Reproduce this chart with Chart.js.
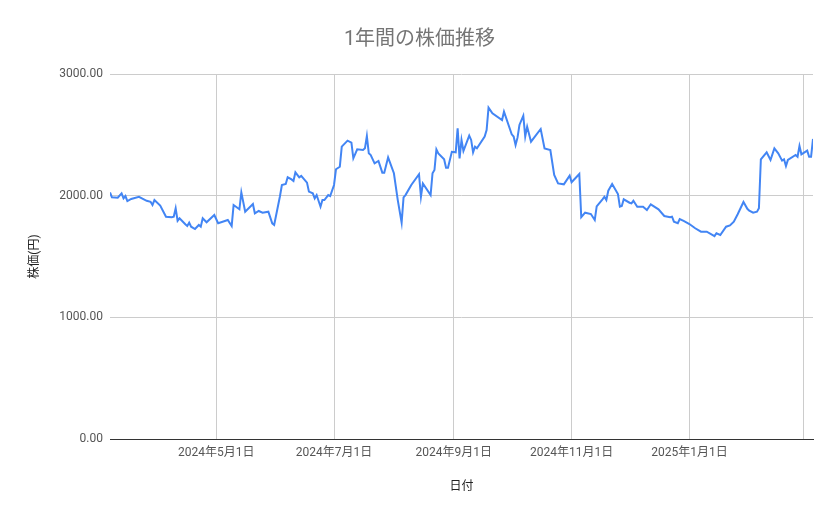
<!DOCTYPE html>
<html>
<head>
<meta charset="utf-8">
<script src="https://cdn.jsdelivr.net/npm/chart.js@4.4.1/dist/chart.umd.min.js"></script>
<style>
    html, body { margin: 0; padding: 0; background: #fff; }
    #wrap { width: 839px; height: 519px; }
</style>
</head>
<body>
<div id="wrap"><canvas id="priceChart"></canvas></div>
<script>
const dates = [
    '2024-03-07', '2024-03-08', '2024-03-11', '2024-03-13', '2024-03-14', '2024-03-15', '2024-03-16', '2024-03-18',
    '2024-03-22', '2024-03-26', '2024-03-28', '2024-03-29', '2024-03-30',
    '2024-04-02', '2024-04-05', '2024-04-08', '2024-04-09', '2024-04-10', '2024-04-11', '2024-04-12', '2024-04-15',
    '2024-04-16', '2024-04-17', '2024-04-18', '2024-04-20', '2024-04-22', '2024-04-23', '2024-04-24', '2024-04-26',
    '2024-04-30',
    '2024-05-02', '2024-05-07', '2024-05-09', '2024-05-10', '2024-05-13', '2024-05-14', '2024-05-16', '2024-05-20',
    '2024-05-21', '2024-05-23', '2024-05-25', '2024-05-28', '2024-05-30', '2024-05-31',
    '2024-06-03', '2024-06-04', '2024-06-06', '2024-06-07', '2024-06-09', '2024-06-10', '2024-06-11', '2024-06-13',
    '2024-06-14', '2024-06-17', '2024-06-18', '2024-06-20', '2024-06-21', '2024-06-22', '2024-06-24', '2024-06-25',
    '2024-06-26', '2024-06-28', '2024-06-29',
    '2024-07-01', '2024-07-02', '2024-07-04', '2024-07-05', '2024-07-08', '2024-07-10', '2024-07-11', '2024-07-13',
    '2024-07-16', '2024-07-17', '2024-07-18', '2024-07-19', '2024-07-20', '2024-07-22', '2024-07-24', '2024-07-26',
    '2024-07-27', '2024-07-29',
    '2024-08-01', '2024-08-03', '2024-08-05', '2024-08-06', '2024-08-07', '2024-08-10', '2024-08-14', '2024-08-15',
    '2024-08-16', '2024-08-20', '2024-08-21', '2024-08-22', '2024-08-23', '2024-08-24', '2024-08-27', '2024-08-28',
    '2024-08-29', '2024-08-31',
    '2024-09-02', '2024-09-03', '2024-09-04', '2024-09-05', '2024-09-06', '2024-09-09', '2024-09-10', '2024-09-11',
    '2024-09-12', '2024-09-13', '2024-09-17', '2024-09-18', '2024-09-19', '2024-09-21', '2024-09-26', '2024-09-27',
    '2024-10-01', '2024-10-02', '2024-10-03', '2024-10-04', '2024-10-05', '2024-10-07', '2024-10-08', '2024-10-09',
    '2024-10-11', '2024-10-16', '2024-10-18', '2024-10-21', '2024-10-23', '2024-10-25', '2024-10-28', '2024-10-31',
    '2024-11-01', '2024-11-05', '2024-11-06', '2024-11-08', '2024-11-11', '2024-11-13', '2024-11-14', '2024-11-17',
    '2024-11-18', '2024-11-19', '2024-11-20', '2024-11-22', '2024-11-25', '2024-11-26', '2024-11-27', '2024-11-28',
    '2024-12-01', '2024-12-02', '2024-12-03', '2024-12-05', '2024-12-08', '2024-12-10', '2024-12-12', '2024-12-16',
    '2024-12-19', '2024-12-22', '2024-12-23', '2024-12-24', '2024-12-26', '2024-12-27', '2024-12-29',
    '2025-01-01', '2025-01-04', '2025-01-07', '2025-01-10', '2025-01-14', '2025-01-15', '2025-01-17', '2025-01-20',
    '2025-01-22', '2025-01-24', '2025-01-26', '2025-01-29', '2025-01-31',
    '2025-02-01', '2025-02-03', '2025-02-05', '2025-02-06', '2025-02-07', '2025-02-10', '2025-02-12', '2025-02-14',
    '2025-02-16', '2025-02-18', '2025-02-19', '2025-02-20', '2025-02-21', '2025-02-25', '2025-02-26', '2025-02-27',
    '2025-02-28',
    '2025-03-03', '2025-03-04', '2025-03-05', '2025-03-06'
];

const prices = [
    2027, 1986, 1983, 2019, 1978, 1997, 1956, 1973,
    1991, 1958, 1950, 1923, 1964,
    1918, 1827, 1822, 1827, 1896, 1794, 1814, 1765,
    1751, 1778, 1745, 1726, 1759, 1745, 1814, 1781,
    1841,
    1773, 1800, 1751, 1923, 1888, 2027, 1868, 1931,
    1855, 1874, 1860, 1868, 1773, 1760,
    1995, 2088, 2096, 2151, 2134, 2121, 2192, 2151,
    2162, 2107, 2033, 2019, 1978, 2005, 1909, 1964,
    1964, 2005, 1997,
    2088, 2217, 2238, 2403, 2452, 2436, 2307, 2381,
    2375, 2389, 2490, 2348, 2334, 2266, 2285, 2189,
    2189, 2315,
    2184, 1964, 1778, 1986, 2005, 2088, 2176, 1991,
    2101, 2005, 2184, 2211, 2381, 2348, 2299, 2230,
    2230, 2360,
    2356, 2553, 2307, 2458, 2367, 2493, 2458, 2356,
    2403, 2389, 2486, 2540, 2723, 2677, 2622, 2690,
    2504, 2486, 2416, 2477, 2581, 2657, 2486, 2567,
    2444, 2548, 2389, 2375, 2170, 2101, 2093, 2165,
    2110, 2178, 1823, 1860, 1849, 1800, 1912, 1970,
    1991, 1964, 2041, 2096, 2014, 1909, 1915, 1970,
    1942, 1937, 1958, 1909, 1909, 1882, 1929, 1888,
    1833, 1822, 1827, 1786, 1773, 1808, 1792,
    1767, 1732, 1704, 1704, 1668, 1691, 1677, 1745,
    1755, 1786, 1847, 1948, 1892,
    1877, 1860, 1868, 1896, 2299, 2356, 2293, 2389,
    2348, 2288, 2299, 2244, 2293, 2334, 2320, 2408,
    2340,
    2370, 2320, 2320, 2466
];

// 目盛りを置く日付（最後の3月1日は線だけでラベルなし）
const tickDates = ['2024-05-01', '2024-07-01', '2024-09-01', '2024-11-01', '2025-01-01', '2025-03-01'];
const unlabeledTicks = ['2025-03-01'];
const yTicks = [0, 1000, 2000, 3000];

const FONT = 'Roboto, "Noto Sans CJK JP", sans-serif';

function toDay(s) {
    return Date.UTC(+s.slice(0, 4), +s.slice(5, 7) - 1, +s.slice(8, 10)) / 86400000;
}

function dayLabel(day) {
    const d = new Date(day * 86400000);
    return d.getUTCFullYear() + '年' + (d.getUTCMonth() + 1) + '月' + d.getUTCDate() + '日';
}

const points = dates.map((d, i) => ({ x: toDay(d), y: prices[i] }));
const hidden = unlabeledTicks.map(toDay);

const ctx = document.getElementById('priceChart').getContext('2d');

new Chart(ctx, {
    type: 'line',
    data: {
        datasets: [{
            label: '株価',
            data: points,
            borderColor: '#4285f4',
            borderWidth: 2,
            pointRadius: 0,
            tension: 0,
            fill: false,
        }]
    },
    options: {
        responsive: true,
        maintainAspectRatio: false,
        animation: false,
        layout: {
            padding: { left: 26, right: 26, top: 0, bottom: 0 }
        },
        scales: {
            x: {
                type: 'linear',
                bounds: 'data',
                min: toDay(dates[0]),
                max: toDay(dates[dates.length - 1]),
                afterBuildTicks: scale => {
                    scale.ticks = tickDates.map(d => ({ value: toDay(d) }));
                },
                afterFit: scale => {
                    scale.height = 80;
                },
                ticks: {
                    autoSkip: false,
                    maxRotation: 0,
                    padding: 7,
                    color: '#555',
                    font: { family: FONT, size: 12 },
                    callback: value => hidden.includes(value) ? '' : dayLabel(value)
                },
                grid: {
                    color: '#cccccc',
                    drawTicks: false
                },
                border: {
                    display: true,
                    color: '#333333',
                    width: 1
                },
                title: {
                    display: true,
                    text: '日付',
                    color: '#222',
                    font: { family: FONT, size: 12 },
                    padding: { top: 0, bottom: 25 }
                }
            },
            y: {
                min: 0,
                max: 3000,
                afterBuildTicks: scale => {
                    scale.ticks = yTicks.map(v => ({ value: v }));
                },
                afterFit: scale => {
                    scale.width = 84;
                },
                ticks: {
                    padding: 7,
                    color: '#555',
                    font: { family: FONT, size: 12 },
                    callback: value => value.toFixed(2)
                },
                grid: {
                    color: c => (c.tick && c.tick.value === 0) ? '#333333' : '#cccccc',
                    drawTicks: false
                },
                border: {
                    display: false
                },
                title: {
                    display: true,
                    text: '株価(円)',
                    color: '#222',
                    font: { family: FONT, size: 12 },
                    padding: { top: 2, bottom: 0 }
                }
            }
        },
        plugins: {
            legend: {
                display: false
            },
            tooltip: {
                enabled: false
            },
            title: {
                display: true,
                text: '1年間の株価推移',
                color: '#757575',
                font: { family: FONT, size: 20, weight: 'normal' },
                padding: { top: 28, bottom: 22 }
            }
        }
    }
});
</script>
</body>
</html>
